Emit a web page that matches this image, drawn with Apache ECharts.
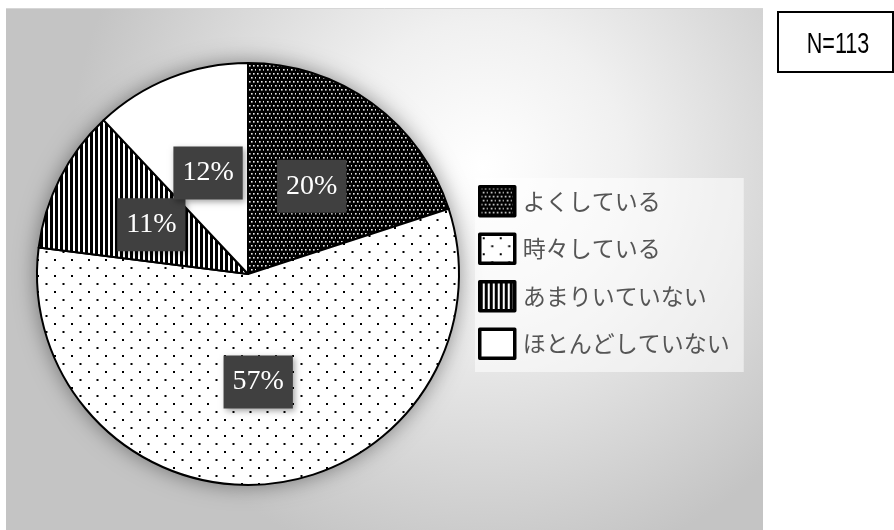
<!DOCTYPE html>
<html>
<head>
<meta charset="utf-8">
<script src="https://cdn.jsdelivr.net/npm/echarts@6/dist/echarts.min.js"></script>
<style>
  html, body { margin: 0; padding: 0; background: #ffffff; }
  #chart { width: 894px; height: 530px; }
</style>
</head>
<body>
<div id="chart"></div>
<script>
// Survey answers (share of respondents, %)
const categories = ['よくしている', '時々している', 'あまりいていない', 'ほとんどしていない'];
const shares = [20, 57, 11, 12];
const sampleNote = 'N=113';

// Fill patterns built on small canvases
function makeTile(w, h, draw) {
  const c = document.createElement('canvas');
  c.width = w; c.height = h;
  draw(c.getContext('2d'), w, h);
  return { image: c, repeat: 'repeat' };
}
// black field with fine white dots
const denseDots = makeTile(8, 8, (g, w, h) => {
  g.fillStyle = '#000'; g.fillRect(0, 0, w, h);
  g.fillStyle = '#e8e8e8';
  [[1, 1], [5, 1], [3, 5], [7, 5]].forEach(([x, y]) => g.fillRect(x, y, 1.6, 1.6));
});
// white field with sparse black dots
const sparseDots = makeTile(17, 16, (g, w, h) => {
  g.fillStyle = '#fff'; g.fillRect(0, 0, w, h);
  g.fillStyle = '#000';
  g.fillRect(3, 3, 2, 2);
  g.fillRect(11.5, 11, 2, 2);
});
// vertical stripes
const stripes = makeTile(5, 4, (g, w, h) => {
  g.fillStyle = '#fff'; g.fillRect(0, 0, w, h);
  g.fillStyle = '#000'; g.fillRect(0, 0, 3, h);
});
const fills = [denseDots, sparseDots, stripes, '#ffffff'];

const chart = echarts.init(document.getElementById('chart'), null, { renderer: 'canvas' });

const cx = 248, cy = 274, rad = 211;

chart.setOption({
  animation: false,
  backgroundColor: '#ffffff',
  graphic: [
    {
      type: 'rect', z: -10, silent: true,
      shape: { x: 6, y: 8, width: 757, height: 530 },
      style: {
        fill: {
          type: 'radial', x: 0.63, y: 0.3, r: 0.78,
          colorStops: [
            { offset: 0, color: '#ffffff' },
            { offset: 0.35, color: '#f0f0f0' },
            { offset: 1, color: '#c4c4c4' }
          ]
        }
      }
    },
    {
      type: 'line', z: -9, silent: true,
      shape: { x1: 6, y1: 8.5, x2: 763, y2: 8.5 },
      style: { stroke: '#d6d6d6', lineWidth: 1 }
    },
    {
      type: 'group', z: 10,
      children: [
        {
          type: 'rect',
          shape: { x: 778, y: 12, width: 115, height: 60 },
          style: { fill: '#ffffff', stroke: '#000000', lineWidth: 2 }
        },
        {
          type: 'text',
          x: 838, y: 45,
          scaleX: 0.72,
          style: {
            text: sampleNote,
            fill: '#000000',
            font: '30px "Liberation Sans", "DejaVu Sans", sans-serif',
            textAlign: 'center', textVerticalAlign: 'middle'
          }
        }
      ]
    }
  ],
  legend: {
    orient: 'vertical',
    left: 475, top: 178,
    padding: [7, 14, 12, 3],
    backgroundColor: 'rgba(255,255,255,0.55)',
    itemWidth: 35, itemHeight: 29,
    itemGap: 15,
    icon: 'rect',
    data: categories,
    itemStyle: { borderColor: '#000', borderWidth: 3.5, shadowBlur: 0, shadowColor: 'transparent' },
    textStyle: {
      fontFamily: '"Noto Sans CJK JP", sans-serif',
      fontSize: 23, color: '#555555', lineHeight: 29,
      padding: [0, 0, 0, 3]
    },
    selectedMode: false
  },
  series: [
    {
      // soft drop shadow behind the disc
      type: 'pie', silent: true, z: 1,
      center: [cx, cy], radius: rad,
      label: { show: false }, labelLine: { show: false },
      itemStyle: { color: '#ffffff', shadowBlur: 22, shadowColor: 'rgba(0,0,0,0.45)' },
      data: [{ name: '_disc', value: 1 }]
    },
    {
      type: 'pie', z: 2,
      center: [cx, cy], radius: rad,
      startAngle: 90, clockwise: true,
      avoidLabelOverlap: false,
      labelLayout: { hideOverlap: false },
      data: categories.map((n, i) => ({ name: n, value: shares[i], itemStyle: { color: fills[i] } })),
      itemStyle: { borderColor: '#000000', borderWidth: 2 },
      emphasis: { disabled: true },
      labelLine: { show: false },
      label: {
        show: true,
        position: 'inside',
        formatter: '{c}%',
        color: '#ffffff',
        fontFamily: '"Liberation Serif", "DejaVu Serif", serif',
        fontSize: 28,
        backgroundColor: '#404040',
        padding: [13, 9, 12, 9],
        shadowBlur: 6, shadowOffsetX: 2, shadowOffsetY: 2,
        shadowColor: 'rgba(0,0,0,0.35)'
      }
    }
  ]
});
</script>
</body>
</html>
